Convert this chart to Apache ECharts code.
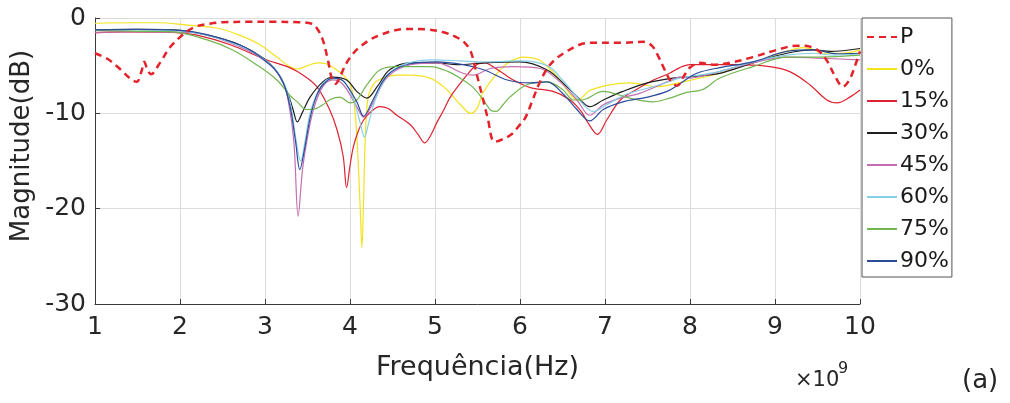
<!DOCTYPE html>
<html><head><meta charset="utf-8">
<script src="https://cdn.jsdelivr.net/npm/echarts@6/dist/echarts.min.js"></script>
<style>html,body{margin:0;padding:0;background:#fff}#c{width:1010px;height:403px}</style>
</head><body><div id="c"></div>
<script>
// Frequency in GHz (axis shows ×10^9 Hz), magnitude in dB
const seriesNames = ['P', '0%', '15%', '30%', '45%', '60%', '75%', '90%'];
const xTicks = ['1','2','3','4','5','6','7','8','9','10'];

const dataP = [[1.0,-3.7],[1.15,-4.3],[1.3,-5.4],[1.42,-6.4],[1.49,-6.7],[1.55,-5.5],[1.58,-4.6],[1.62,-5.5],[1.66,-5.9],[1.75,-4.9],[1.88,-3.1],[2.0,-2.0],[2.1,-1.3],[2.2,-0.85],[2.35,-0.6],[2.5,-0.45],[2.8,-0.4],[3.1,-0.4],[3.4,-0.45],[3.55,-0.6],[3.62,-1.2],[3.68,-2.3],[3.74,-4.4],[3.79,-6.5],[3.83,-6.9],[3.88,-6.2],[3.96,-4.7],[4.04,-3.7],[4.12,-3.0],[4.25,-2.2],[4.35,-1.8],[4.5,-1.35],[4.65,-1.15],[4.9,-1.2],[5.1,-1.5],[5.25,-2.0],[5.35,-2.6],[5.42,-3.5],[5.48,-5.5],[5.55,-8.0],[5.62,-10.5],[5.7,-13.0],[5.8,-12.7],[5.9,-12.2],[5.98,-11.4],[6.06,-10.5],[6.14,-8.8],[6.22,-7.0],[6.32,-5.3],[6.42,-4.3],[6.55,-3.5],[6.7,-2.8],[6.85,-2.6],[7.2,-2.6],[7.45,-2.5],[7.55,-2.9],[7.62,-3.9],[7.7,-5.4],[7.78,-6.7],[7.85,-7.1],[7.92,-6.2],[8.0,-5.2],[8.12,-4.7],[8.27,-4.9],[8.47,-4.7],[8.74,-4.1],[9.02,-3.35],[9.26,-2.9],[9.41,-3.0],[9.52,-3.5],[9.62,-4.6],[9.7,-6.0],[9.8,-7.2],[9.88,-6.4],[9.95,-4.8],[10.0,-3.5]];

const data0 = [[1.0,-0.55],[1.5,-0.5],[1.75,-0.5],[2.08,-0.75],[2.43,-1.05],[2.7,-1.8],[2.94,-2.8],[3.14,-4.1],[3.29,-5.1],[3.38,-5.35],[3.5,-5.0],[3.61,-4.7],[3.72,-4.8],[3.82,-5.3],[3.92,-6.0],[4.0,-6.9],[4.05,-9.0],[4.09,-14.0],[4.12,-20.0],[4.14,-24.1],[4.16,-19.0],[4.18,-12.5],[4.21,-8.5],[4.28,-6.9],[4.39,-6.3],[4.55,-6.0],[4.7,-6.0],[4.94,-6.3],[5.1,-7.2],[5.2,-8.1],[5.3,-9.1],[5.42,-10.0],[5.5,-9.4],[5.56,-7.9],[5.73,-5.8],[5.88,-4.6],[6.04,-4.1],[6.2,-4.3],[6.3,-4.9],[6.47,-6.5],[6.59,-8.0],[6.68,-8.6],[6.82,-7.6],[7.06,-7.0],[7.29,-6.8],[7.61,-7.2],[7.92,-6.7],[8.35,-5.8],[8.74,-4.7],[9.06,-3.7],[9.33,-3.1],[9.45,-3.3],[9.56,-3.7],[9.8,-3.7],[10.0,-3.35]];

const data15 = [[1.0,-1.55],[1.33,-1.45],[1.92,-1.5],[2.2,-1.8],[2.59,-2.8],[3.02,-4.4],[3.29,-5.2],[3.45,-6.0],[3.61,-7.2],[3.76,-9.6],[3.85,-11.8],[3.92,-14.5],[3.96,-17.8],[4.0,-15.5],[4.04,-13.5],[4.1,-11.8],[4.16,-10.7],[4.25,-9.8],[4.35,-9.3],[4.45,-9.5],[4.55,-10.2],[4.71,-11.2],[4.8,-12.2],[4.88,-13.1],[4.95,-12.3],[5.02,-11.0],[5.1,-9.7],[5.18,-8.3],[5.33,-6.5],[5.49,-4.9],[5.59,-4.7],[5.68,-5.1],[5.8,-5.8],[5.92,-6.5],[6.12,-7.3],[6.39,-7.7],[6.59,-8.6],[6.72,-9.8],[6.8,-11.0],[6.91,-12.2],[7.02,-10.7],[7.18,-8.6],[7.37,-7.5],[7.57,-6.5],[7.76,-5.8],[7.88,-5.2],[8.0,-4.9],[8.5,-4.9],[8.94,-5.1],[9.18,-5.65],[9.41,-7.0],[9.61,-8.6],[9.73,-8.9],[9.88,-8.3],[10.0,-7.55]];

const data30 = [[1.0,-1.25],[1.5,-1.2],[1.92,-1.25],[2.32,-1.8],[2.7,-2.8],[2.98,-4.2],[3.14,-5.65],[3.26,-7.7],[3.33,-9.6],[3.38,-10.9],[3.44,-9.9],[3.53,-8.3],[3.68,-6.7],[3.8,-6.2],[3.96,-6.5],[4.08,-7.7],[4.2,-8.4],[4.32,-7.2],[4.47,-5.4],[4.71,-4.7],[5.02,-4.7],[5.26,-4.9],[5.58,-4.7],[6.0,-4.6],[6.32,-5.45],[6.55,-7.2],[6.71,-8.6],[6.82,-9.3],[6.98,-8.6],[7.21,-7.7],[7.5,-6.8],[7.8,-6.3],[7.96,-6.2],[8.35,-5.8],[8.74,-4.7],[9.14,-3.7],[9.45,-3.35],[9.65,-3.5],[10.0,-3.2]];

const data45 = [[1.0,-1.5],[1.5,-1.45],[2.1,-1.5],[2.7,-3.0],[3.06,-4.9],[3.21,-6.7],[3.28,-9.0],[3.34,-13.0],[3.39,-20.8],[3.44,-16.0],[3.49,-13.0],[3.57,-9.6],[3.68,-7.2],[3.8,-6.5],[3.92,-7.0],[4.08,-9.3],[4.16,-10.4],[4.27,-8.9],[4.44,-6.2],[4.71,-4.9],[5.02,-4.7],[5.33,-5.8],[5.45,-6.0],[5.65,-5.3],[5.92,-5.1],[6.24,-5.3],[6.47,-6.7],[6.67,-8.6],[6.82,-10.2],[6.98,-9.1],[7.18,-8.4],[7.41,-7.9],[7.73,-6.7],[7.88,-6.2],[8.0,-6.3],[8.27,-5.8],[8.74,-4.7],[9.14,-4.1],[9.49,-4.2],[10.0,-4.4]];

const data60 = [[1.0,-1.3],[1.5,-1.25],[2.0,-1.35],[2.7,-2.9],[3.06,-4.8],[3.21,-6.6],[3.3,-9.0],[3.36,-12.5],[3.42,-15.0],[3.47,-13.0],[3.53,-10.0],[3.63,-7.6],[3.75,-6.4],[3.85,-6.4],[3.95,-6.9],[4.05,-8.8],[4.12,-11.0],[4.17,-12.5],[4.22,-11.0],[4.3,-8.5],[4.44,-6.0],[4.6,-5.0],[4.8,-4.5],[5.0,-4.4],[5.3,-4.5],[5.6,-4.6],[6.0,-4.5],[6.32,-5.0],[6.5,-6.5],[6.67,-8.3],[6.78,-9.4],[6.86,-9.8],[7.02,-9.1],[7.25,-8.0],[7.57,-7.2],[7.88,-6.3],[8.1,-6.0],[8.35,-5.6],[8.74,-4.6],[9.14,-3.9],[9.45,-3.7],[9.7,-3.9],[10.0,-3.75]];

const data75 = [[1.0,-1.3],[1.5,-1.4],[1.92,-1.45],[2.32,-2.3],[2.62,-3.35],[2.9,-4.9],[3.14,-6.5],[3.29,-8.1],[3.38,-8.8],[3.49,-9.6],[3.6,-9.5],[3.68,-9.1],[3.78,-8.5],[3.88,-8.3],[4.0,-8.9],[4.08,-8.6],[4.2,-7.0],[4.35,-5.45],[4.55,-5.1],[4.94,-5.1],[5.15,-5.6],[5.33,-6.5],[5.45,-7.3],[5.57,-8.6],[5.66,-9.7],[5.72,-9.8],[5.8,-9.1],[5.88,-8.3],[6.08,-7.0],[6.32,-6.7],[6.5,-7.5],[6.63,-8.6],[6.72,-8.6],[6.98,-7.7],[7.14,-8.0],[7.29,-8.4],[7.56,-8.8],[7.76,-8.4],[7.96,-7.8],[8.15,-7.5],[8.35,-6.3],[8.74,-5.1],[9.14,-4.1],[9.53,-4.1],[10.0,-3.9]];

const data90 = [[1.0,-1.25],[1.5,-1.2],[2.0,-1.3],[2.7,-2.8],[3.06,-4.9],[3.21,-6.7],[3.3,-9.5],[3.36,-13.0],[3.41,-15.9],[3.46,-14.0],[3.53,-10.5],[3.6,-8.3],[3.68,-7.0],[3.8,-6.3],[3.92,-6.6],[4.08,-8.8],[4.16,-10.3],[4.27,-8.6],[4.44,-6.0],[4.71,-4.8],[5.02,-4.6],[5.33,-4.9],[5.58,-5.45],[5.85,-6.5],[6.12,-6.8],[6.32,-6.7],[6.5,-7.9],[6.67,-9.6],[6.82,-10.8],[6.98,-9.6],[7.21,-8.8],[7.5,-8.3],[7.73,-7.7],[7.88,-6.9],[8.08,-5.8],[8.35,-5.2],[8.74,-4.6],[9.14,-3.5],[9.45,-3.35],[9.73,-3.75],[10.0,-3.7]];

const seriesData = [dataP, data0, data15, data30, data45, data60, data75, data90];
const seriesColors = ['#e3222a', '#f2e31c', '#dd2230', '#1e1e1e', '#c46db0', '#86cfe6', '#72b650', '#2b4c9b'];

const FONT = 'DejaVu Sans';
const chart = echarts.init(document.getElementById('c'), null, {renderer: 'canvas'});

const series = seriesNames.map((name, i) => ({
  name: name,
  type: 'line',
  data: seriesData[i],
  showSymbol: false,
  symbol: 'none',
  smooth: 0.35,
  z: i === 0 ? 5 : 3,
  lineStyle: i === 0
    ? {color: seriesColors[i], width: 2.5, type: [7, 5]}
    : {color: seriesColors[i], width: 1.2},
  itemStyle: {color: seriesColors[i]},
  emphasis: {disabled: true},
  animation: false
}));

chart.setOption({
  animation: false,
  backgroundColor: '#fff',
  grid: {left: 95, right: 150, top: 18, bottom: 99, containLabel: false},
  xAxis: {
    type: 'value', min: 1, max: 10, interval: 1,
    axisLine: {show: true, onZero: false, lineStyle: {color: '#3a3a3a', width: 1}},
    axisTick: {show: true, inside: true, length: 5, lineStyle: {color: '#3a3a3a'}},
    splitLine: {show: true, lineStyle: {color: '#dcdcdc', width: 1}},
    axisLabel: {fontFamily: FONT, fontSize: 25, color: '#262626', margin: 11,
      formatter: v => xTicks[Math.round(v) - 1] || ''},
    name: 'Frequência(Hz)', nameLocation: 'middle', nameGap: 50,
    nameTextStyle: {fontFamily: FONT, fontSize: 27, color: '#262626'}
  },
  yAxis: {
    type: 'value', min: -30, max: 0, interval: 10,
    axisLine: {show: true, onZero: false, lineStyle: {color: '#3a3a3a', width: 1}},
    axisTick: {show: true, inside: true, length: 5, lineStyle: {color: '#3a3a3a'}},
    splitLine: {show: true, lineStyle: {color: '#dcdcdc', width: 1}},
    axisLabel: {fontFamily: FONT, fontSize: 25, color: '#262626', margin: 9}
  },
  legend: {
    data: seriesNames,
    orient: 'vertical',
    left: 862, top: 18,
    padding: [8, 3, 5, 4],
    itemGap: 10,
    itemWidth: 30, itemHeight: 22,
    itemStyle: {opacity: 0},
    borderColor: '#555', borderWidth: 1,
    backgroundColor: '#fff',
    selectedMode: false,
    textStyle: {fontFamily: FONT, fontSize: 22, color: '#1a1a1a', padding: [0, 0, 0, -2]}
  },
  graphic: [
    {type: 'text', x: 22, y: 146, rotation: Math.PI / 2,
      style: {text: 'Magnitude(dB)', fontFamily: FONT, fontSize: 26, fill: '#262626', align: 'center', verticalAlign: 'middle'}},
    {type: 'text', left: 795, top: 370, style: {text: '×10', fontFamily: FONT, fontSize: 21, fill: '#262626'}},
    {type: 'text', left: 838, top: 361, style: {text: '9', fontFamily: FONT, fontSize: 16, fill: '#262626'}},
    {type: 'text', left: 962, top: 368, style: {text: '(a)', fontFamily: FONT, fontSize: 26, fill: '#262626'}}
  ],
  series: series
});
</script>
</body></html>
